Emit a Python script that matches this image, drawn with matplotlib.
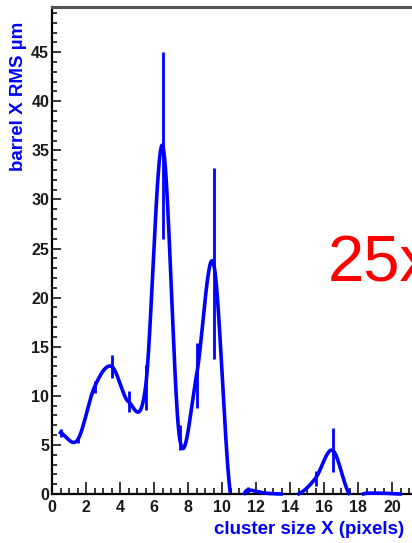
import numpy as np
import matplotlib
matplotlib.use("Agg")
import matplotlib.pyplot as plt
from matplotlib.ticker import MultipleLocator, FuncFormatter

plt.rcParams['font.family'] = ['Liberation Sans', 'DejaVu Sans']

# RMS por tamaño de cluster (centro de bin, valor, error)
centros = [0.5, 1.5, 2.5, 3.5, 4.5, 5.5, 6.5, 7.5, 8.5, 9.5,
           10.5, 11.5, 12.5, 13.5, 14.5, 15.5, 16.5, 17.5, 18.5, 19.5,
           20.5, 21.5, 22.5, 23.5, 24.5]
rms = [6.25, 5.5, 10.9, 13.0, 9.4, 10.85, 35.5, 5.75, 12.1, 23.5,
       0.0, 0.4, 0.1, 0.0, 0.0, 1.6, 4.45, 0.0, 0.08, 0.08,
       0.0, 0.0, 0.0, 0.0, 0.0]
errores = [0.4, 0.3, 0.6, 1.2, 1.05, 2.25, 9.5, 1.25, 3.3, 9.7,
           0.0, 0.3, 0.1, 0.0, 0.0, 0.75, 2.25, 0.0, 0.0, 0.0,
           0.0, 0.0, 0.0, 0.0, 0.0]

azul = "#0000ff"


# Curva suave tipo Catmull-Rom que pasa por todos los puntos
def curva_suave(x, y, n=40):
    x = np.asarray(x, float)
    y = np.asarray(y, float)
    m = np.zeros_like(y)
    m[1:-1] = (y[2:] - y[:-2]) / 2
    m[0] = y[1] - y[0]
    m[-1] = y[-1] - y[-2]
    xs, ys = [], []
    for i in range(len(x) - 1):
        t = np.linspace(0, 1, n, endpoint=False)
        h00 = 2*t**3 - 3*t**2 + 1
        h10 = t**3 - 2*t**2 + t
        h01 = -2*t**3 + 3*t**2
        h11 = t**3 - t**2
        xs.append(x[i] + t*(x[i+1] - x[i]))
        ys.append(h00*y[i] + h10*m[i] + h01*y[i+1] + h11*m[i+1])
    xs.append([x[-1]])
    ys.append([y[-1]])
    return np.concatenate(xs), np.concatenate(ys)


fig = plt.figure(figsize=(4.12, 5.43), dpi=100)
ax = fig.add_axes([52/412, 49/543, 425/412, 487/543])

cx, cy = curva_suave(centros, rms)
# lo que queda por debajo de cero no se dibuja
cy = np.where(cy > 1e-3, cy, np.nan)
ax.plot(cx, cy, color=azul, lw=2.6, zorder=5, clip_on=False)

for xc, v, e in zip(centros, rms, errores):
    if e > 0:
        ax.plot([xc, xc], [v - e, v + e], color=azul, lw=2.0,
                solid_capstyle='butt', zorder=5)

ax.set_xlim(0, 25)
ax.set_ylim(0, 49.6)

ax.xaxis.set_major_locator(MultipleLocator(2))
ax.xaxis.set_minor_locator(MultipleLocator(0.5))
ax.xaxis.set_major_formatter(FuncFormatter(lambda v, p: "%d" % v if v <= 20 else ""))
ax.yaxis.set_major_locator(MultipleLocator(5))
ax.yaxis.set_minor_locator(MultipleLocator(1))

ax.tick_params(axis='both', which='both', direction='in', width=1.1,
               top=False, right=False, color='black')
ax.tick_params(axis='x', which='major', length=8.6, pad=4)
ax.tick_params(axis='x', which='minor', length=4)
ax.tick_params(axis='y', which='major', length=6.5, pad=2)
ax.tick_params(axis='y', which='minor', length=3.5)

for lab in ax.get_xticklabels() + ax.get_yticklabels():
    lab.set_fontweight('bold')
    lab.set_fontsize(11.5)
    lab.set_color('#1a1a1a')

ax.spines['right'].set_visible(False)
ax.spines['left'].set_linewidth(1.6)
ax.spines['bottom'].set_linewidth(1.6)
ax.spines['top'].set_linewidth(2.2)
ax.spines['top'].set_color('#555555')

# titulos de ejes
fig.text(19/412, 1 - 96/543, "barrel X RMS µm", rotation=90, color=azul,
         fontsize=13.5, fontweight='bold', ha='center', va='center')
fig.text(404/412, 1 - 530/543, "cluster size X (pixels)", color=azul,
         fontsize=13.5, fontweight='bold', ha='right', va='center')

fig.text(328/412, 1 - 281/543, "25x", color='red', fontsize=47,
         ha='left', va='baseline')

fig.savefig("out.png", dpi=100)
